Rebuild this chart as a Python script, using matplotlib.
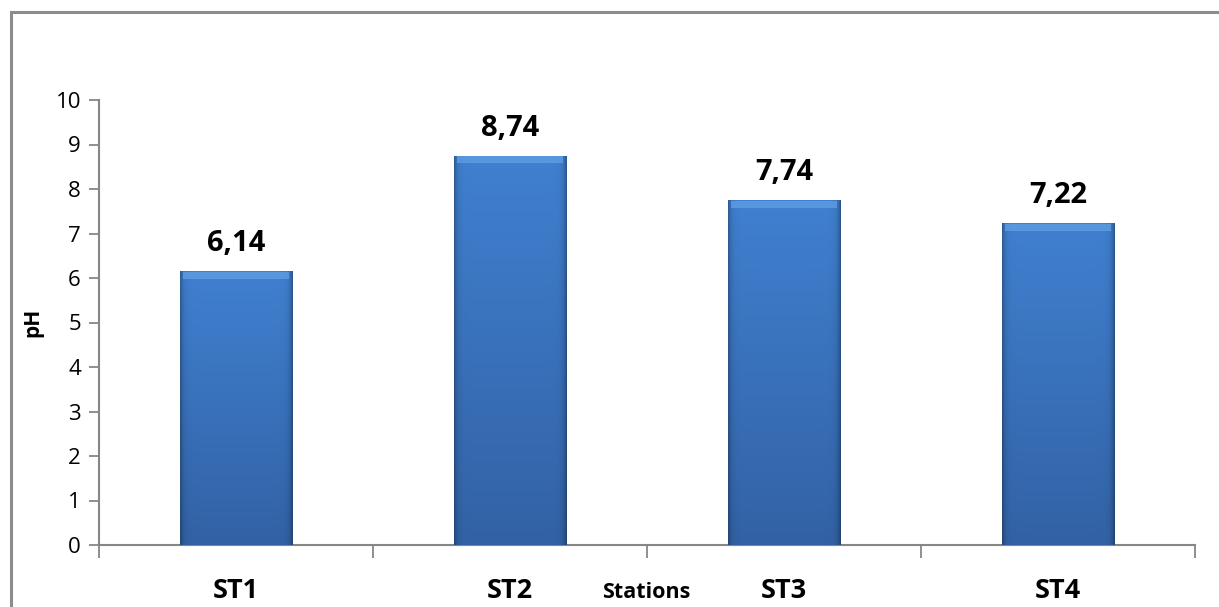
import numpy as np
import matplotlib
matplotlib.use("Agg")
import matplotlib.pyplot as plt
from matplotlib.patches import Rectangle

stations = ["ST1", "ST2", "ST3", "ST4"]
ph_values = [6.14, 8.74, 7.74, 7.22]
value_labels = ["6,14", "8,74", "7,74", "7,22"]
y_ticks = list(range(0, 11))

plt.rcParams['font.family'] = ['Open Sans', 'DejaVu Sans']

W, H = 1219, 607
fig = plt.figure(figsize=(W / 100, H / 100), dpi=100)
fig.patch.set_facecolor('white')

# outer chart frame (bottom/right run off the picture)
fig.patches.append(Rectangle((11 / W, -0.05), 1.2, 1 - 12 / H + 0.05,
                             transform=fig.transFigure, fill=False,
                             edgecolor='#8c8c8c', linewidth=2.2, clip_on=False))

ax = fig.add_axes([99 / W, 1 - 545 / H, (1195 - 99) / W, (545 - 100) / H])
x = np.arange(len(stations))
bars = ax.bar(x, ph_values, width=0.41, color='#3a73bd', edgecolor='none', zorder=2)


def bar_shading(nrows=200, ncols=100):
    # vertical: lighter at top, darker at bottom; sides darkened slightly
    top = np.array([64, 128, 208]) / 255
    bot = np.array([50, 98, 165]) / 255
    t = np.linspace(0, 1, nrows)[:, None, None]
    img = top * (1 - t) + bot * t
    img = np.repeat(img, ncols, axis=1)
    u = np.linspace(0, 1, ncols)
    side = 1 - 0.28 * np.exp(-u / 0.025) - 0.32 * np.exp(-(1 - u) / 0.025)
    img = img * side[None, :, None]
    return np.clip(img, 0, 1)


shade = bar_shading()
for b in bars:
    x0, w, h = b.get_x(), b.get_width(), b.get_height()
    ax.imshow(shade, aspect='auto', extent=(x0, x0 + w, 0, h),
              zorder=3, interpolation='bilinear')
    # light bevel at the top of the bar
    ax.add_patch(Rectangle((x0 + 0.01, h - 0.16), w - 0.02, 0.16,
                           color='#5d9be0', zorder=4, lw=0, alpha=0.85))

for xi, v, lab in zip(x, ph_values, value_labels):
    ax.text(xi, v + 0.3, lab, ha='center', va='bottom', fontsize=21,
            fontweight='bold', color='black')

ax.set_xlim(-0.5, len(stations) - 0.5)
ax.set_ylim(0, 10)
ax.set_yticks(y_ticks)
ax.tick_params(axis='y', direction='out', length=7, width=1.3, color='#868686',
               labelsize=16, pad=6)

ax.set_xticks(np.arange(-0.5, len(stations), 1.0))
ax.set_xticklabels([])
ax.tick_params(axis='x', which='major', direction='out', length=9, width=1.3,
               color='#868686')
ax.set_xticks(x, minor=True)
ax.set_xticklabels(stations, minor=True, fontsize=19.5, fontweight='bold')
ax.tick_params(axis='x', which='minor', length=0, pad=23.5)

for side in ['top', 'right']:
    ax.spines[side].set_visible(False)
for side in ['left', 'bottom']:
    ax.spines[side].set_color('#868686')
    ax.spines[side].set_linewidth(1.5)

ax.set_ylabel('pH', fontsize=15, fontweight='bold', labelpad=9)
fig.text(646 / W, 1 - 592 / H, 'Stations', ha='center', va='center',
         fontsize=15.5, fontweight='bold')

fig.savefig('out.png', dpi=100)
